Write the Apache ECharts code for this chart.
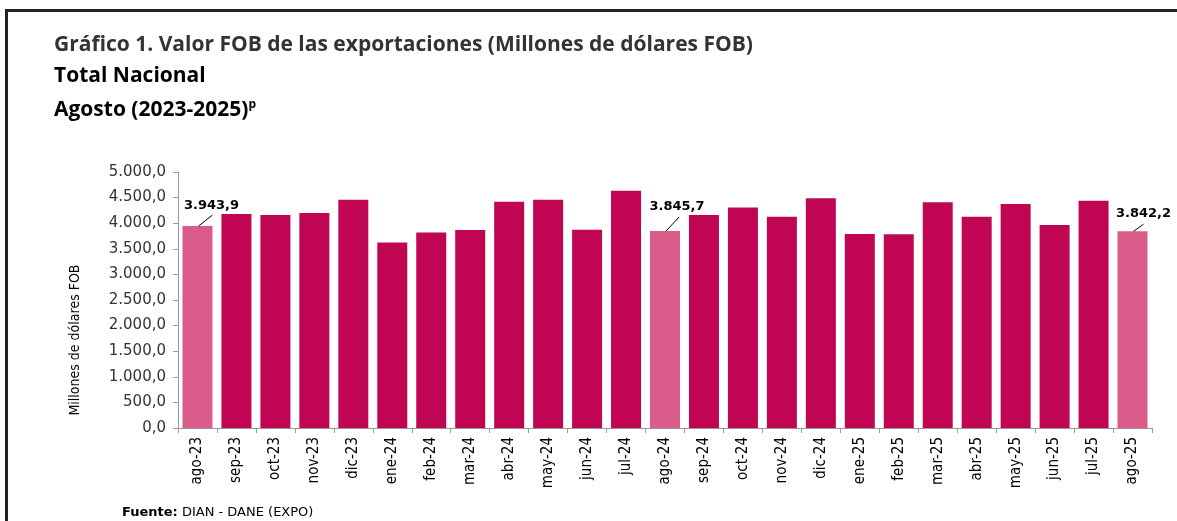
<!DOCTYPE html>
<html>
<head>
<meta charset="utf-8">
<script src="https://cdn.jsdelivr.net/npm/echarts@6/dist/echarts.min.js"></script>
<style>
  html, body { margin: 0; padding: 0; background: #fff; }
  #main { width: 1177px; height: 521px; }
</style>
</head>
<body>
<div id="main"></div>
<script>
// meses (ago-23 .. ago-25)
var categories = ['ago-23', 'sep-23', 'oct-23', 'nov-23', 'dic-23', 'ene-24', 'feb-24', 'mar-24', 'abr-24',
  'may-24', 'jun-24', 'jul-24', 'ago-24', 'sep-24', 'oct-24', 'nov-24', 'dic-24', 'ene-25', 'feb-25',
  'mar-25', 'abr-25', 'may-25', 'jun-25', 'jul-25', 'ago-25']
// valor FOB, millones de dolares
var fobValues = [3943.9, 4180, 4160, 4199, 4459, 3625, 3820, 3867, 4420,
  4459, 3873, 4635, 3845.7, 4160, 4309, 4127, 4485, 3789, 3785,
  4407, 4127, 4375, 3965, 4440, 3842.2]
// meses de agosto resaltados (con etiqueta)
var highlighted = ['ago-23', 'ago-24', 'ago-25']
var yTicks = [0, 500, 1000, 1500, 2000, 2500, 3000, 3500, 4000, 4500, 5000]

var mainColor = '#c00552'
var lightColor = '#d95c8b'
var narrowFont = '"DejaVu Sans Condensed", "Liberation Sans", sans-serif'

function fmt(v) {
  var parts = v.toFixed(1).split('.')
  return parts[0].replace(/\B(?=(\d{3})+(?!\d))/g, '.') + ',' + parts[1]
}

var chart = echarts.init(document.getElementById('main'))

var barData = categories.map(function (c, i) {
  var hi = highlighted.indexOf(c) >= 0
  return {
    value: fobValues[i],
    itemStyle: { color: hi ? lightColor : mainColor },
    label: { show: hi }
  }
})

// desplazamiento de etiquetas (dx, dy) y de la linea guia, por indice
var labelShift = { 0: [14, -9], 12: [12, -13], 24: [11, -6] }
var guideShift = { 0: [14, -11], 12: [13, -14], 24: [10, -7] }

var guideData = []
categories.forEach(function (c, i) {
  if (highlighted.indexOf(c) >= 0) guideData.push([i, fobValues[i]])
})

var option = {
  backgroundColor: '#fff',
  animation: false,
  title: [
    {
      text: 'Gráfico 1. Valor FOB de las exportaciones (Millones de dólares FOB)',
      left: 49, top: 30,
      textStyle: { fontFamily: 'Open Sans', fontWeight: 'bold', fontSize: 21, color: '#333' }
    },
    {
      text: 'Total Nacional',
      left: 49, top: 61,
      textStyle: { fontFamily: 'Open Sans', fontWeight: 'bold', fontSize: 21, color: '#000' }
    },
    {
      text: 'Agosto (2023-2025){sup|p}',
      left: 49, top: 94,
      textStyle: {
        fontFamily: 'Open Sans', fontWeight: 'bold', fontSize: 21, color: '#000',
        rich: { sup: { fontFamily: 'Open Sans', fontWeight: 'bold', fontSize: 12, color: '#000', padding: [0, 0, 10, 0] } }
      }
    },
    {
      text: '{b|Fuente:} DIAN - DANE (EXPO)',
      left: 117, top: 501,
      textStyle: {
        fontFamily: 'DejaVu Sans', fontSize: 13, color: '#000', fontWeight: 'normal',
        rich: { b: { fontFamily: 'DejaVu Sans', fontSize: 13, fontWeight: 'bold', color: '#000' } }
      }
    }
  ],
  graphic: [
    { type: 'line', shape: { x1: 5, y1: 10.5, x2: 1177, y2: 10.5 }, style: { stroke: '#222', lineWidth: 3 } },
    { type: 'line', shape: { x1: 6.5, y1: 9, x2: 6.5, y2: 521 }, style: { stroke: '#222', lineWidth: 3 } }
  ],
  grid: { left: 178, right: 25, top: 172, bottom: 93, containLabel: false },
  xAxis: {
    type: 'category',
    data: categories,
    axisLine: { lineStyle: { color: '#9a9a9a', width: 1 } },
    axisTick: { show: true, length: 5, lineStyle: { color: '#9a9a9a' } },
    axisLabel: {
      rotate: 90, interval: 0, margin: 9,
      fontFamily: narrowFont, fontSize: 15, color: '#000'
    }
  },
  yAxis: {
    type: 'value',
    min: yTicks[0], max: yTicks[yTicks.length - 1], interval: 500,
    name: 'Millones de dólares FOB',
    nameLocation: 'middle',
    nameGap: 96,
    nameTextStyle: { fontFamily: narrowFont, fontSize: 14, color: '#000', padding: [0, 80, 0, 0] },
    axisLine: { show: true, lineStyle: { color: '#9a9a9a', width: 1 } },
    axisTick: { show: true, length: 5, lineStyle: { color: '#9a9a9a' } },
    splitLine: { show: false },
    axisLabel: {
      margin: 12, fontFamily: 'DejaVu Sans', fontSize: 15, color: '#333',
      formatter: function (v) { return fmt(v) }
    }
  },
  series: [
    {
      type: 'bar',
      data: barData,
      barCategoryGap: '23%',
      label: {
        position: 'top', distance: 5,
        fontFamily: 'DejaVu Sans', fontWeight: 'bold', fontSize: 13, color: '#000',
        formatter: function (p) { return fmt(p.value) }
      },
      labelLayout: function (p) {
        var s = labelShift[p.dataIndex]
        return s ? { dx: s[0], dy: s[1] } : {}
      }
    },
    {
      // lineas guia de las etiquetas
      type: 'custom',
      data: guideData,
      silent: true,
      z: 5,
      renderItem: function (params, api) {
        var i = api.value(0)
        var pt = api.coord([i, api.value(1)])
        var s = guideShift[i] || [12, -10]
        return {
          type: 'line',
          shape: { x1: pt[0] + 1, y1: pt[1], x2: pt[0] + 1 + s[0], y2: pt[1] + s[1] },
          style: { stroke: '#000', lineWidth: 1 }
        }
      }
    }
  ]
}

chart.setOption(option)
</script>
</body>
</html>
